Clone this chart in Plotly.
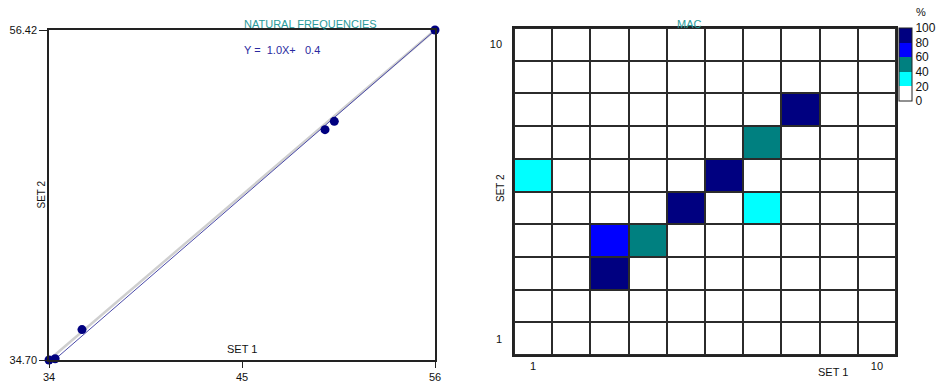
import plotly.graph_objects as go

# Natural frequencies: set 1 vs set 2 (Hz)
freq_set1 = [34.00, 34.35, 35.88, 49.73, 50.26, 56.00]
freq_set2 = [34.70, 34.78, 36.70, 49.86, 50.41, 56.42]
fit_slope = 1.0
fit_intercept = 0.4
x_ticks = [34, 45, 56]
y_ticks = [34.70, 56.42]
y_ticktext = ["34.70", "56.42"]

# MAC matrix (%), rows = set 2 mode 1..10, columns = set 1 mode 1..10
modes = list(range(1, 11))
mac = [
    [3, 1, 0, 0, 0, 0, 0, 0, 0, 0],
    [0, 4, 2, 0, 0, 0, 0, 0, 0, 0],
    [0, 0, 92, 6, 0, 0, 0, 0, 0, 0],
    [0, 0, 72, 48, 5, 0, 0, 0, 0, 0],
    [0, 0, 0, 8, 97, 3, 31, 0, 0, 0],
    [28, 0, 0, 0, 4, 94, 0, 2, 0, 0],
    [0, 0, 0, 0, 0, 6, 52, 3, 0, 0],
    [0, 0, 0, 0, 0, 0, 4, 96, 0, 0],
    [0, 0, 0, 0, 0, 0, 0, 0, 5, 0],
    [0, 0, 0, 0, 0, 0, 0, 0, 0, 3],
]
mac_levels = [0, 20, 40, 60, 80, 100]
level_colors = ["#ffffff", "#00ffff", "#008080", "#0000ff", "#000080"]

W, H = 938, 387
FONT = "Liberation Sans"
TEAL = "#2a9a9a"

colorscale = []
for i, c in enumerate(level_colors):
    colorscale.append([mac_levels[i] / 100, c])
    colorscale.append([mac_levels[i + 1] / 100, c])

fig = go.Figure()

# reference diagonal across the plot box
fig.add_trace(go.Scatter(
    x=[x_ticks[0], x_ticks[-1]], y=[y_ticks[0], y_ticks[-1]],
    mode="lines", line=dict(color="#cfcfcf", width=2.5),
    hoverinfo="skip", showlegend=False, xaxis="x", yaxis="y"))

# regression line
fit_x = [x_ticks[0], x_ticks[-1]]
fit_y = [fit_slope * v + fit_intercept for v in fit_x]
fig.add_trace(go.Scatter(
    x=fit_x, y=fit_y, mode="lines",
    line=dict(color="#4a4aa8", width=1),
    hoverinfo="skip", showlegend=False, xaxis="x", yaxis="y"))

fig.add_trace(go.Scatter(
    x=freq_set1, y=freq_set2, mode="markers",
    marker=dict(color="#000080", size=9, line=dict(width=0)),
    showlegend=False, xaxis="x", yaxis="y", cliponaxis=False))

fig.add_trace(go.Heatmap(
    x=modes, y=modes, z=mac, zmin=0, zmax=100,
    colorscale=colorscale, xgap=2, ygap=2,
    xaxis="x2", yaxis="y2",
    colorbar=dict(
        x=899 / W, xanchor="left", y=(H - 28) / H, yanchor="top",
        thicknessmode="pixels", thickness=13,
        lenmode="pixels", len=73, xpad=0, ypad=0,
        outlinecolor="#222", outlinewidth=1,
        tickvals=mac_levels, ticktext=[str(v) for v in mac_levels],
        ticks="", ticklabelposition="outside",
        tickfont=dict(family=FONT, size=12, color="#111"),
    )))

axis_font = dict(family=FONT, size=11, color="#111")
fig.update_layout(
    width=W, height=H, margin=dict(l=0, r=0, t=0, b=0, autoexpand=False),
    paper_bgcolor="white", plot_bgcolor="white",
    xaxis=dict(domain=[49 / W, 435 / W], range=[x_ticks[0], x_ticks[-1]],
               tickvals=x_ticks, ticks="outside", ticklen=6, tickcolor="#222",
               showgrid=False, zeroline=False, showline=True, mirror=True,
               linecolor="#222", linewidth=1.5, tickfont=axis_font, automargin=False),
    yaxis=dict(domain=[(H - 360) / H, (H - 30) / H], range=[y_ticks[0], y_ticks[-1]],
               tickvals=y_ticks, ticktext=y_ticktext, ticks="outside", ticklen=8,
               tickcolor="#222", showgrid=False, zeroline=False, showline=True,
               mirror=True, linecolor="#222", linewidth=1.5, tickfont=axis_font,
               automargin=False),
    xaxis2=dict(domain=[514 / W, 896 / W], range=[0.5, 10.5], tickvals=[1, 10],
                ticks="", showgrid=False, zeroline=False, showline=True, mirror=True,
                linecolor="#222", linewidth=1.5, tickfont=axis_font, anchor="y2",
                automargin=False),
    yaxis2=dict(domain=[(H - 355) / H, (H - 28) / H], range=[0.5, 10.5], tickvals=[1, 10],
                ticks="", showgrid=False, zeroline=False, showline=True, mirror=True,
                linecolor="#222", linewidth=1.5, tickfont=axis_font, anchor="x2",
                ticklabelstandoff=8, automargin=False),
    shapes=[dict(type="rect", xref="x2 domain", yref="y2 domain",
                 x0=0, x1=1, y0=0, y1=1, fillcolor="#2b2b2b",
                 line=dict(width=0), layer="below")],
)

ann = []
ann.append(dict(text="NATURAL FREQUENCIES", x=242 / W, y=1 - 16 / H, xref="paper", yref="paper",
                showarrow=False, font=dict(family=FONT, size=11, color=TEAL)))
ann.append(dict(text="MAC", x=704 / W, y=1 - 16 / H, xref="paper", yref="paper",
                showarrow=False, font=dict(family=FONT, size=11, color=TEAL)))
ann.append(dict(text=f"Y =  {fit_slope:.1f}X+   {fit_intercept:.1f}", x=242 / W, y=1 - 42 / H,
                xref="paper", yref="paper", showarrow=False,
                font=dict(family=FONT, size=11, color="#2a2aa0")))
ann.append(dict(text="SET 1", x=45, xref="x", y=0, yref="y domain", yanchor="bottom",
                yshift=3, showarrow=False, font=axis_font))
ann.append(dict(text="SET 2", x=33 / W, y=1 - 195 / H, xref="paper", yref="paper",
                textangle=-90, showarrow=False, font=dict(family=FONT, size=10, color="#111")))
ann.append(dict(text="SET 2", x=500 / W, y=1 - 188 / H, xref="paper", yref="paper",
                textangle=-90, showarrow=False, font=dict(family=FONT, size=10, color="#111")))
ann.append(dict(text="SET 1", x=850 / W, y=1 - 380 / H, xref="paper", yref="paper",
                showarrow=False, font=dict(family=FONT, size=11, color="#111")))
ann.append(dict(text="%", x=927 / W, y=1 - 19 / H, xref="paper", yref="paper",
                yanchor="bottom", borderpad=0,
                showarrow=False, font=dict(family=FONT, size=11, color="#111")))
fig.update_layout(annotations=ann)

fig.write_html("out.html")
